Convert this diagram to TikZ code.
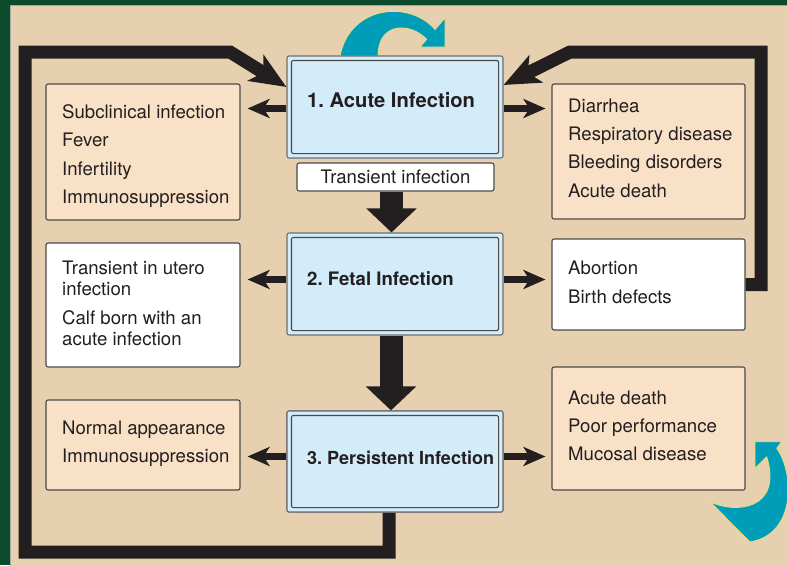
\documentclass[tikz,border=0pt]{standalone}
\usepackage{fontspec}
\setmainfont{TeX Gyre Heros}
\usetikzlibrary{arrows.meta}
\frenchspacing
\definecolor{bggreen}{HTML}{0B4A2B}
\definecolor{beige}{HTML}{E6D0B0}
\definecolor{peach}{HTML}{F9E1C7}
\definecolor{lblue}{HTML}{D2ECFA}
\definecolor{ink}{HTML}{231F20}
\definecolor{edge}{HTML}{4A4A4A}
\definecolor{tealc}{HTML}{009DB8}
\definecolor{paleyel}{HTML}{F0DE7A}
\begin{document}
\begin{tikzpicture}[x=1pt,y=-1pt,
  every node/.style={font=\fontsize{18.6}{28.3}\selectfont, text=ink},
  sidebox/.style={draw=edge, line width=1.1pt, rounded corners=2pt, inner sep=0pt},
  peachbox/.style={sidebox, fill=peach},
  whitebox/.style={sidebox, fill=white},
  mainbox/.style={draw=edge!80, line width=1.1pt, fill=lblue, rounded corners=2pt, inner sep=0pt, minimum width=216pt, minimum height=102pt},
  innerframe/.style={draw=edge, line width=1.1pt, rounded corners=2pt},
  sidetxt/.style={anchor=west, align=left, inner sep=0pt},
  maintxt/.style={anchor=west, inner sep=0pt, font=\bfseries\fontsize{18}{20}\selectfont},
  harrow/.style={draw=ink, line width=7pt, -{Stealth[length=22pt, width=19pt, inset=6pt]}},
  varrow/.style={draw=ink, line width=23pt, -{Triangle[length=24pt, width=49pt]}},
  loopline/.style={draw=ink, line width=13pt, line join=miter, -{Stealth[length=36pt, width=30pt, inset=9pt]}},
  tealarrow/.style={fill=tealc, draw=paleyel, line width=0.8pt, line join=round}
]
\useasboundingbox (0,0) rectangle (787,565);
\clip (0,0) rectangle (787,565);
% background
\fill[bggreen] (0,0) rectangle (787,565);
\filldraw[fill=beige, draw=gray!70, line width=0.8pt] (10.5,5.5) rectangle (800,580);

% teal curved arrows
\path[tealarrow] (340,56) .. controls (350,5) and (410,0) .. (435,29.5)
  -- (445,18) -- (445,47) -- (420,47) -- (426.7,39.3)
  .. controls (410,22) and (378,22) .. (378,56) -- cycle;
\path[tealarrow] (755,441.7) -- (781.7,441.7) -- (776.7,448.3)
  .. controls (794,472) and (797,534) .. (750,542)
  -- (710,501.7)
  .. controls (735,514) and (783,510) .. (766.7,456.7)
  -- (755,468.3) -- cycle;

% main boxes
\node[mainbox] (b1) at (395,107) {};
\node[mainbox] (b2) at (395,284) {};
\node[mainbox, minimum height=101pt] (b3) at (395,461.5) {};
\foreach \b in {b1,b2}
  \draw[innerframe] ([xshift=5pt,yshift=-5pt]\b.north west) rectangle ([xshift=-5pt,yshift=5pt]\b.south east);

% named connector ends
\path ([xshift=-6pt]b3.south) coordinate (ls);
\path ([yshift=20pt]b1.west) coordinate (lt);
\path ([yshift=22pt]b1.east) coordinate (rt);

% side boxes
\node[peachbox, minimum width=194pt, minimum height=136pt] (l1) at (143,152) {};
\node[whitebox, minimum width=194pt, minimum height=124pt] (l2) at (143,305) {};
\node[peachbox, minimum width=194pt, minimum height=90pt] (l3) at (143,445) {};
\node[peachbox, minimum width=193pt, minimum height=135pt] (r1) at (648.5,151.5) {};
\node[whitebox, minimum width=193pt, minimum height=91pt] (r2) at (648.5,284.5) {};
\node[peachbox, minimum width=193pt, minimum height=123pt] (r3) at (648.5,428.5) {};

% feedback loops
\draw[loopline] (ls) |- (25,552) |- (230,52) -- (lt);
\draw[loopline] (r2.east) -| (761,52) -- (570,52) -- (rt);

% box 3 drawn again over the loop start
\node[mainbox, minimum height=101pt] at (b3) {};
\draw[innerframe] ([xshift=5pt,yshift=-5pt]b3.north west) rectangle ([xshift=-5pt,yshift=5pt]b3.south east);

% transient box
\node[whitebox, minimum width=197pt, minimum height=28pt] (tr) at (395.5,177) {Transient infection};

% texts
\node[maintxt, font=\bfseries\fontsize{20.2}{22}\selectfont] (b1t) at (307,100) {1. Acute Infection};
\node[maintxt, font=\bfseries\fontsize{18.6}{20}\selectfont] (b2t) at (307,279) {2. Fetal Infection};
\node[maintxt] (b3t) at (307,458) {3. Persistent Infection};

\node[sidetxt] (l1t) at (62,156) {Subclinical infection\\Fever\\Infertility\\Immunosuppression};
\node[sidetxt, font=\fontsize{18.6}{21}\selectfont] (l2t) at (62,303) {Transient in utero\\infection\\[8pt]Calf born with an\\acute infection};
\node[sidetxt] (l3t) at (62,444) {Normal appearance\\Immunosuppression};
\node[sidetxt] (r1t) at (568,148) {Diarrhea\\Respiratory disease\\Bleeding disorders\\Acute death};
\node[sidetxt] (r2t) at (568,282.5) {Abortion\\Birth defects};
\node[sidetxt] (r3t) at (568,426) {Acute death\\Poor performance\\Mucosal disease};

% horizontal arrows
\path ([yshift=-1.5pt]b1.west) coordinate (a1l);
\path ([yshift=-1.5pt]b1.east) coordinate (a1r);
\path ([yshift=4.5pt]b2.west) coordinate (a2l);
\path ([yshift=4.5pt]b2.east) coordinate (a2r);
\path ([yshift=5pt]b3.west) coordinate (a3l);
\path ([yshift=5pt]b3.east) coordinate (a3r);
\draw[harrow, shorten >=7pt] (a1l) -- (a1l -| l1.east);
\draw[harrow, shorten >=6pt] (a1r) -- (a1r -| r1.west);
\draw[harrow, shorten >=7pt] (a2l) -- (a2l -| l2.east);
\draw[harrow, shorten >=6pt] (a2r) -- (a2r -| r2.west);
\draw[harrow, shorten >=7pt] (a3l) -- (a3l -| l3.east);
\draw[harrow, shorten >=6pt] (a3r) -- (a3r -| r3.west);

% vertical arrows
\path ([xshift=-4pt]tr.south) coordinate (d1s);
\path ([xshift=-4pt]b2.south) coordinate (d2s);
\draw[varrow] (d1s) -- (d1s |- b2.north);
\draw[varrow] (d2s) -- (d2s |- b3.north);
\end{tikzpicture}
\end{document}
